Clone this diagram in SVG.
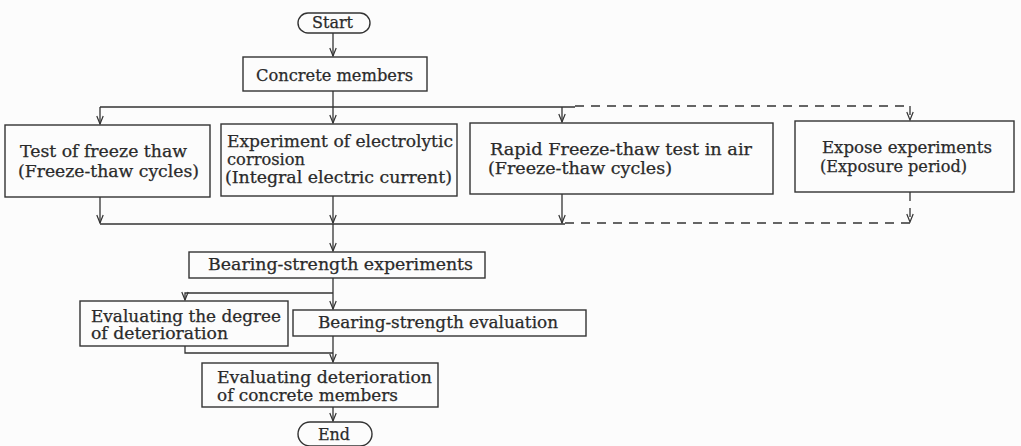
<svg xmlns="http://www.w3.org/2000/svg" width="1021" height="446" viewBox="0 0 1021 446">
<defs>
<marker id="arr" markerWidth="10" markerHeight="8" refX="9" refY="4" orient="auto" markerUnits="userSpaceOnUse" viewBox="0 0 10 8">
<path d="M1,0.8 L9,4 L1,7.2" fill="none" stroke="#333" stroke-width="1.2"/>
</marker>
<style>
.box{fill:none;stroke:#333;stroke-width:1.4}
.t{font-family:"DejaVu Serif","Liberation Serif",serif;font-size:16px;fill:#2a2a2a;stroke:#2a2a2a;stroke-width:0.25}
.c{stroke:#333;stroke-width:1.3;fill:none}
.d{stroke:#333;stroke-width:1.3;fill:none;stroke-dasharray:9 7}
</style>
</defs>
<rect width="1021" height="446" fill="#fcfcfc"/>
<g id="connectors">
<path class="c" d="M333,33 V56" marker-end="url(#arr)"/>
<path class="c" d="M333,91 V123" marker-end="url(#arr)"/>
<path class="c" d="M100,107 H575"/>
<path class="d" d="M575,106 H910"/>
<path class="c" d="M100,107 V124" marker-end="url(#arr)"/>
<path class="c" d="M562,107 V122" marker-end="url(#arr)"/>
<path class="d" d="M910,106 V120" marker-end="url(#arr)"/>
<path class="c" d="M100,197 V223" marker-end="url(#arr)"/>
<path class="c" d="M333,196 V223" marker-end="url(#arr)"/>
<path class="c" d="M562,194 V223" marker-end="url(#arr)"/>
<path class="d" d="M910,192 V222" marker-end="url(#arr)"/>
<path class="c" d="M100,224 H565"/>
<path class="d" d="M565,223 H910"/>
<path class="c" d="M333,224 V251" marker-end="url(#arr)"/>
<path class="c" d="M333,278 V309" marker-end="url(#arr)"/>
<path class="c" d="M333,293 H185 V300" marker-end="url(#arr)"/>
<path class="c" d="M333,336 V362" marker-end="url(#arr)"/>
<path class="c" d="M185,346 V353 H333"/>
<path class="c" d="M333,407 V421" marker-end="url(#arr)"/>
</g>
<g id="start">
<rect class="box" x="298" y="13" width="72" height="20" rx="10"/>
<text class="t" x="312" y="28" textLength="41" lengthAdjust="spacingAndGlyphs">Start</text>
</g>
<g id="concrete">
<rect class="box" x="243" y="57" width="184" height="34"/>
<text class="t" x="256" y="81" textLength="157" lengthAdjust="spacingAndGlyphs">Concrete members</text>
</g>
<g id="freeze">
<rect class="box" x="5" y="125" width="205" height="72"/>
<text class="t" x="20" y="157" textLength="167" lengthAdjust="spacingAndGlyphs">Test of freeze thaw</text>
<text class="t" x="18" y="177" textLength="181" lengthAdjust="spacingAndGlyphs">(Freeze-thaw cycles)</text>
</g>
<g id="electro">
<rect class="box" x="221" y="124" width="236" height="72"/>
<text class="t" x="227" y="147" textLength="226" lengthAdjust="spacingAndGlyphs">Experiment of electrolytic</text>
<text class="t" x="227" y="165" textLength="78" lengthAdjust="spacingAndGlyphs">corrosion</text>
<text class="t" x="225" y="183" textLength="227" lengthAdjust="spacingAndGlyphs">(Integral electric current)</text>
</g>
<g id="rapid">
<rect class="box" x="470" y="123" width="303" height="71"/>
<text class="t" x="490" y="155" textLength="262" lengthAdjust="spacingAndGlyphs">Rapid Freeze-thaw test in air</text>
<text class="t" x="488" y="174" textLength="184" lengthAdjust="spacingAndGlyphs">(Freeze-thaw cycles)</text>
</g>
<g id="expose">
<rect class="box" x="795" y="121" width="219" height="71"/>
<text class="t" x="822" y="153" textLength="170" lengthAdjust="spacingAndGlyphs">Expose experiments</text>
<text class="t" x="820" y="172" textLength="147" lengthAdjust="spacingAndGlyphs">(Exposure period)</text>
</g>
<g id="bearing-exp">
<rect class="box" x="189" y="252" width="296" height="26"/>
<text class="t" x="208" y="270" textLength="265" lengthAdjust="spacingAndGlyphs">Bearing-strength experiments</text>
</g>
<g id="eval-degree">
<rect class="box" x="80" y="301" width="208" height="45"/>
<text class="t" x="91" y="322" textLength="190" lengthAdjust="spacingAndGlyphs">Evaluating the degree</text>
<text class="t" x="91" y="339" textLength="137" lengthAdjust="spacingAndGlyphs">of deterioration</text>
</g>
<g id="bearing-eval">
<rect class="box" x="293" y="310" width="293" height="26"/>
<text class="t" x="318" y="328" textLength="240" lengthAdjust="spacingAndGlyphs">Bearing-strength evaluation</text>
</g>
<g id="eval-det">
<rect class="box" x="202" y="363" width="236" height="44"/>
<text class="t" x="217" y="383" textLength="215" lengthAdjust="spacingAndGlyphs">Evaluating deterioration</text>
<text class="t" x="217" y="401" textLength="181" lengthAdjust="spacingAndGlyphs">of concrete members</text>
</g>
<g id="end">
<rect class="box" x="298" y="422" width="74" height="24" rx="12"/>
<text class="t" x="318" y="440" textLength="32" lengthAdjust="spacingAndGlyphs">End</text>
</g>
</svg>
